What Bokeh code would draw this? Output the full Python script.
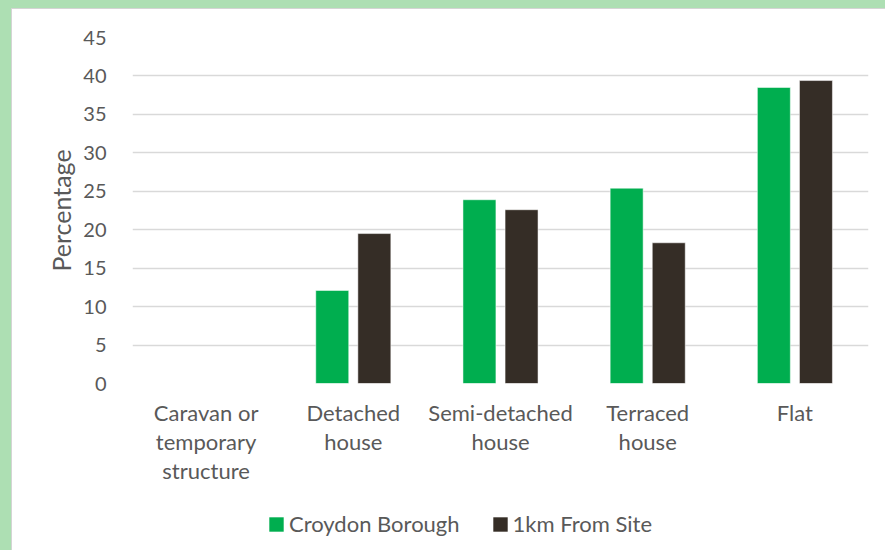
from bokeh.plotting import figure
from bokeh.models import Range1d, Legend, LegendItem, SingleIntervalTicker, FixedTicker, LinearAxis
from bokeh.layouts import column
from bokeh.embed import file_html
from bokeh.resources import INLINE

categories = ["Caravan or temporary structure", "Detached house", "Semi-detached house", "Terraced house", "Flat"]
label_line1 = ["Caravan or", "Detached", "Semi-detached", "Terraced", "Flat"]
label_line2 = ["temporary", "house", "house", "house", ""]
label_line3 = ["structure", "", "", "", ""]
croydon = [0.0, 12.1, 23.9, 25.4, 38.5]
site_1km = [0.0, 19.5, 22.6, 18.3, 39.4]
series_names = ["Croydon Borough", "1km From Site"]
colors = ["#00AE4F", "#352D26"]

FONT = "Lato"
TXT = "#595959"
GREEN_BG = "#ADDFB3"

pos = list(range(1, len(categories) + 1))

p = figure(x_range=Range1d(0.5, len(categories) + 0.5), y_range=Range1d(0, 45),
           width=885, height=490, output_backend="svg", toolbar_location=None,
           x_axis_location=None,
           min_border_left=132, min_border_right=17, min_border_top=37, min_border_bottom=107)
p.outline_line_color = None
p.background_fill_color = "white"
p.border_fill_alpha = 0

data = dict(x1=[x - 0.143 for x in pos], x2=[x + 0.143 for x in pos], a=croydon, b=site_1km)
p.vbar(x="x1", top="a", width=0.224, source=data,
       fill_color=colors[0], line_color="white", line_alpha=0.5, line_width=1)
p.vbar(x="x2", top="b", width=0.224, source=data,
       fill_color=colors[1], line_color="white", line_alpha=0.5, line_width=1)

# grid
p.xgrid.grid_line_color = None
p.ygrid.grid_line_color = "#D9D9D9"
p.ygrid.grid_line_width = 1.5

# y axis
p.yaxis.ticker = SingleIntervalTicker(interval=5)
p.yaxis.axis_line_color = None
p.yaxis.major_tick_line_color = None
p.yaxis.minor_tick_line_color = None
p.yaxis.major_tick_out = 0
p.yaxis.major_tick_in = 0
p.yaxis.major_label_text_font = FONT
p.yaxis.major_label_text_font_size = "20px"
p.yaxis.major_label_text_color = TXT
p.yaxis.major_label_standoff = 22
p.yaxis.axis_label = "Percentage"
p.yaxis.axis_label_text_font = FONT
p.yaxis.axis_label_text_font_size = "25px"
p.yaxis.axis_label_text_font_style = "normal"
p.yaxis.axis_label_text_color = TXT
p.yaxis.axis_label_standoff = 4

# x axes: one per label line
for i, lines in enumerate([label_line1, label_line2, label_line3]):
    ax = LinearAxis(ticker=FixedTicker(ticks=pos),
                    major_label_overrides={x: t for x, t in zip(pos, lines)})
    ax.axis_line_color = None
    ax.major_tick_line_color = None
    ax.minor_tick_line_color = None
    ax.major_tick_out = 0
    ax.major_tick_in = 0
    ax.major_label_text_font = FONT
    ax.major_label_text_font_size = "22px"
    ax.major_label_text_color = TXT
    ax.major_label_standoff = 15 if i == 0 else -1
    p.add_layout(ax, "below")

# legend figure (its frame is aligned with the main frame by the column)
lg = figure(x_range=Range1d(0, 1), y_range=Range1d(0, 1), width=885, height=60,
            output_backend="svg", toolbar_location=None,
            x_axis_location=None, y_axis_location=None,
            min_border_left=0, min_border_right=0, min_border_top=0, min_border_bottom=0)
lg.outline_line_color = None
lg.background_fill_alpha = 0
lg.border_fill_alpha = 0
lg.xgrid.grid_line_color = None
lg.ygrid.grid_line_color = None
# legend keys: one off-range point each so the key glyphs get their colours
key_src = dict(x=[-10.0], top=[0.0])
k1 = lg.vbar(x="x", top="top", width=0.1, source=key_src, fill_color=colors[0], line_color=None)
k2 = lg.vbar(x="x", top="top", width=0.1, source=key_src, fill_color=colors[1], line_color=None)
legend = Legend(items=[LegendItem(label=series_names[0], renderers=[k1]),
                       LegendItem(label=series_names[1], renderers=[k2])],
                orientation="horizontal", location=(135, 13),
                label_text_font=FONT, label_text_font_size="22px", label_text_color=TXT,
                glyph_width=18, glyph_height=18, label_standoff=4, spacing=31,
                padding=0, margin=0,
                border_line_color=None, background_fill_alpha=0)
lg.add_layout(legend, "center")

layout = column(p, lg, spacing=0)
layout.styles = {"background-color": "white",
                 "box-shadow": f"inset 11px 8px 0 0 {GREEN_BG}, inset 12px 9px 0 0 #D4D4D4"}

html = file_html(layout, INLINE)
open("out.html", "w").write(html)
